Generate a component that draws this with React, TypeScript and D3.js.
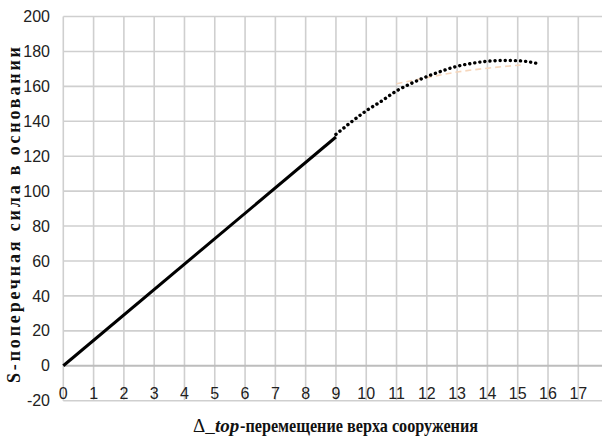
import React from "react";
import * as d3 from "d3";

const xTicks = [0, 1, 2, 3, 4, 5, 6, 7, 8, 9, 10, 11, 12, 13, 14, 15, 16, 17];
const yTicks = [-20, 0, 20, 40, 60, 80, 100, 120, 140, 160, 180, 200];

const linearX = [0, 9];
const linearY = [0, 131];

const curveX = [9, 9.5, 10, 10.5, 11, 11.5, 12, 12.5, 13, 13.5, 14, 14.5, 15, 15.3, 15.62];
const curveY = [132.5, 139.5, 146, 151.5, 157.4, 161.8, 165.6, 168.8, 171.5, 173.2, 174.4, 174.8, 174.7, 174.2, 173.2];

const trendX = [11, 12, 13, 14, 15.1];
const trendY = [161.5, 165, 168.2, 170.4, 172.2];

const yTitle = "S-поперечная сила в основании";
const xTitleA = "Δ_";
const xTitleB = "top";
const xTitleC = "-перемещение верха сооружения";

export default function App() {
  const W = 602, H = 440;
  const x = d3.scaleLinear().domain([0, 18]).range([63.3, 608.6]);
  const y = d3.scaleLinear().domain([-20, 200]).range([400.7, 16.5]);

  const line = d3.line<[number, number]>().x((d) => x(d[0])).y((d) => y(d[1]));
  const curveLine = d3
    .line<[number, number]>()
    .x((d) => x(d[0]))
    .y((d) => y(d[1]))
    .curve(d3.curveMonotoneX);

  const linPts = linearX.map((v, i) => [v, linearY[i]] as [number, number]);
  const curPts = curveX.map((v, i) => [v, curveY[i]] as [number, number]);
  const trPts = trendX.map((v, i) => [v, trendY[i]] as [number, number]);

  const labelFont = "'Liberation Sans Narrow', 'Arial Narrow', sans-serif";
  const serif = "'Liberation Serif', 'Times New Roman', serif";

  return (
    <svg
      width={W}
      height={H}
      style={{ position: "absolute", left: 0, top: 0, background: "#fff" }}
    >
      <rect x={0} y={0} width={W} height={H} fill="#fff" />
      {xTicks.concat([18]).map((t) => (
        <line
          key={"vx" + t}
          x1={x(t)}
          x2={x(t)}
          y1={y(200)}
          y2={y(-20)}
          stroke="#cfcfcf"
          strokeWidth={1.6}
        />
      ))}
      {yTicks.map((t) => (
        <line
          key={"hy" + t}
          x1={x(0)}
          x2={W}
          y1={y(t)}
          y2={y(t)}
          stroke={t === 0 ? "#bdbdbd" : "#cfcfcf"}
          strokeWidth={t === 0 ? 2.2 : 1.6}
        />
      ))}
      {yTicks.map((t) => (
        <text
          key={"yl" + t}
          x={50}
          y={y(t)}
          dy="0.35em"
          textAnchor="end"
          fontFamily={labelFont}
          fontSize={16}
          fill="#222"
        >
          {t}
        </text>
      ))}
      {xTicks.map((t) => (
        <text
          key={"xl" + t}
          x={x(t)}
          y={393}
          dy="0.35em"
          textAnchor="middle"
          fontFamily={labelFont}
          fontSize={16}
          fill="#222"
        >
          {t}
        </text>
      ))}
      <path
        d={curveLine(trPts) || ""}
        fill="none"
        stroke="#f6d6bb"
        strokeWidth={1.6}
        strokeDasharray="6 4"
      />
      <path d={line(linPts) || ""} fill="none" stroke="#000" strokeWidth={3} />
      <path
        d={curveLine(curPts) || ""}
        fill="none"
        stroke="#000"
        strokeWidth={3.4}
        strokeLinecap="round"
        strokeDasharray="0.1 5"
      />
      <text
        transform={`translate(20, 215) rotate(-90)`}
        textAnchor="middle"
        fontFamily={serif}
        fontWeight="bold"
        fontSize={18}
        textLength={336}
        lengthAdjust="spacing"
        fill="#111"
      >
        {yTitle}
      </text>
      <text x={193} y={432} fontFamily={serif} fontSize={19} fill="#111">
        {xTitleA}
      </text>
      <text
        x={215}
        y={432}
        fontFamily={serif}
        fontSize={19}
        fontWeight="bold"
        fontStyle="italic"
        fill="#111"
      >
        {xTitleB}
      </text>
      <text
        x={240}
        y={432}
        fontFamily={serif}
        fontSize={19}
        fontWeight="bold"
        textLength={238}
        lengthAdjust="spacingAndGlyphs"
        fill="#111"
      >
        {xTitleC}
      </text>
    </svg>
  );
}
